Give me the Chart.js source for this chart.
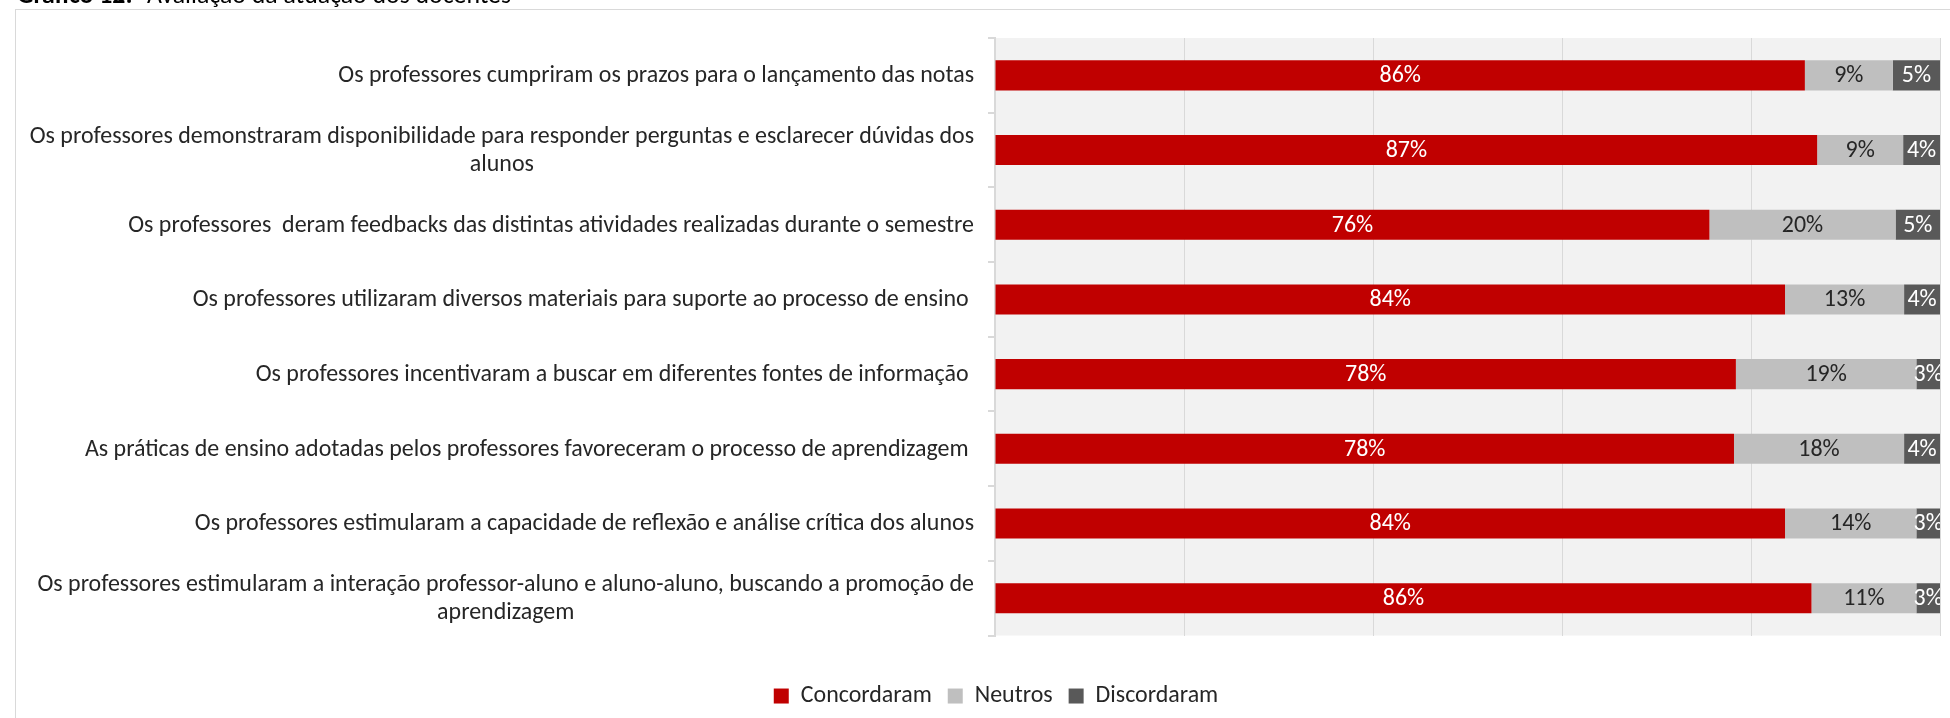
<!DOCTYPE html>
<html><head><meta charset="utf-8">
<script src="https://cdn.jsdelivr.net/npm/chart.js@4/dist/chart.umd.min.js"></script>
<style>html,body{margin:0;padding:0;background:#fff;overflow:hidden}canvas{display:block}</style>
</head><body>
<canvas id="c" width="1950" height="718"></canvas>
<script>
const titleBold = "Gráfico 12:";
const titleText = "Avaliação da atuação dos docentes";
const categories = [
  ["Os professores cumpriram os prazos para o lançamento das notas"],
  ["Os professores demonstraram disponibilidade para responder perguntas e esclarecer dúvidas dos", "alunos"],
  ["Os professores  deram feedbacks das distintas atividades realizadas durante o semestre"],
  ["Os professores utilizaram diversos materiais para suporte ao processo de ensino "],
  ["Os professores incentivaram a buscar em diferentes fontes de informação "],
  ["As práticas de ensino adotadas pelos professores favoreceram o processo de aprendizagem "],
  ["Os professores estimularam a capacidade de reflexão e análise crítica dos alunos"],
  ["Os professores estimularam a interação professor-aluno e aluno-aluno, buscando a promoção de", "aprendizagem"]
];
const seriesNames = ["Concordaram", "Neutros", "Discordaram"];
const concordaram = [85.7, 87.0, 75.6, 83.6, 78.4, 78.2, 83.6, 86.4];
const neutros     = [9.3, 9.1, 19.7, 12.6, 19.1, 18.0, 13.9, 11.1];
const discordaram = [5.0, 3.9, 4.7, 3.8, 2.5, 3.8, 2.5, 2.5];
const xTicks = [0, 20, 40, 60, 80, 100];

const FAMILY = 'Carlito, Calibri, Lato, sans-serif';
const mctx = document.createElement('canvas').getContext('2d');
mctx.font = '23px ' + FAMILY;
const FS = 23 * 636 / mctx.measureText(categories[0][0]).width;
mctx.font = FS + 'px ' + FAMILY;
const TFS = FS * 364 / mctx.measureText(titleText).width;

const colors = ['#c00000', '#bfbfbf', '#595959'];
const labelColors = ['#ffffff', '#262626', '#ffffff'];
const TEXT = '#262626';

const bgPlugin = {
  id: 'bg',
  beforeDraw(chart) {
    const {ctx, chartArea: a} = chart;
    ctx.save();
    ctx.fillStyle = '#fff';
    ctx.fillRect(0, 0, chart.width, chart.height);
    ctx.strokeStyle = '#d9d9d9';
    ctx.lineWidth = 1;
    ctx.strokeRect(15.5, 9.5, 2000, 800);
    ctx.fillStyle = '#f2f2f2';
    ctx.fillRect(a.left, a.top, a.right - a.left, a.bottom - a.top);
    ctx.restore();
  },
  afterDatasetsDraw(chart) {
    const {ctx, chartArea: a} = chart;
    ctx.save();
    ctx.beginPath();
    ctx.rect(a.left, a.top, a.right - a.left, a.bottom - a.top);
    ctx.clip();
    ctx.font = FS + 'px ' + FAMILY;
    ctx.textAlign = 'center';
    ctx.textBaseline = 'middle';
    chart.data.datasets.forEach((ds, di) => {
      const meta = chart.getDatasetMeta(di);
      meta.data.forEach((bar, i) => {
        const v = ds.data[i];
        ctx.fillStyle = labelColors[di];
        ctx.fillText(Math.round(v) + '%', (bar.x + bar.base) / 2, bar.y + 1);
      });
    });
    ctx.restore();
  },
  afterDraw(chart) {
    const {ctx} = chart;
    const ys = chart.scales.y;
    ctx.save();
    ctx.font = FS + 'px ' + FAMILY;
    ctx.fillStyle = TEXT;
    ctx.textAlign = 'center';
    ctx.textBaseline = 'middle';
    const right = ys.right - 21;
    categories.forEach((lines, i) => {
      const cy = ys.getPixelForValue(i);
      const maxW = Math.max(...lines.map(l => ctx.measureText(l).width));
      const cx = right - maxW / 2;
      const lh = 28.5;
      lines.forEach((l, j) => ctx.fillText(l, cx, cy + (j - (lines.length - 1) / 2) * lh + 1));
    });
    // title (partially off the top edge)
    ctx.textAlign = 'left';
    ctx.textBaseline = 'alphabetic';
    ctx.font = 'bold ' + TFS + 'px ' + FAMILY;
    ctx.fillStyle = '#000';
    ctx.fillText(titleBold, 17, 3);
    ctx.font = TFS + 'px ' + FAMILY;
    ctx.fillText(titleText, 147, 3);
    ctx.restore();
  }
};

new Chart(document.getElementById('c'), {
  type: 'bar',
  data: {
    labels: categories,
    datasets: [
      {label: seriesNames[0], data: concordaram, backgroundColor: colors[0]},
      {label: seriesNames[1], data: neutros, backgroundColor: colors[1]},
      {label: seriesNames[2], data: discordaram, backgroundColor: colors[2]}
    ]
  },
  options: {
    indexAxis: 'y',
    responsive: false,
    animation: false,
    devicePixelRatio: 1,
    layout: {padding: {left: 52, right: 10, top: 38, bottom: 0}},
    datasets: {bar: {barPercentage: 0.403, categoryPercentage: 1, borderWidth: 0}},
    scales: {
      x: {
        stacked: true, min: 0, max: 100,
        afterBuildTicks(s) { s.ticks = xTicks.map(v => ({value: v})); },
        afterFit(s) { s.height = 32.5; },
        ticks: {display: false},
        grid: {color: '#d9d9d9', lineWidth: 1, drawTicks: false},
        border: {display: false}
      },
      y: {
        stacked: true,
        afterFit(s) { s.width = 995 - 52; },
        ticks: {display: false},
        grid: {drawOnChartArea: false, drawTicks: true, tickLength: 7, color: '#d9d9d9', lineWidth: 2, offset: true},
        border: {display: true, color: '#d9d9d9', width: 2}
      }
    },
    plugins: {
      legend: {
        position: 'bottom',
        labels: {font: {size: FS, family: FAMILY}, color: TEXT, boxWidth: 15, boxHeight: 15, padding: 16}
      },
      tooltip: {enabled: false}
    }
  },
  plugins: [bgPlugin]
});
</script>
</body></html>
